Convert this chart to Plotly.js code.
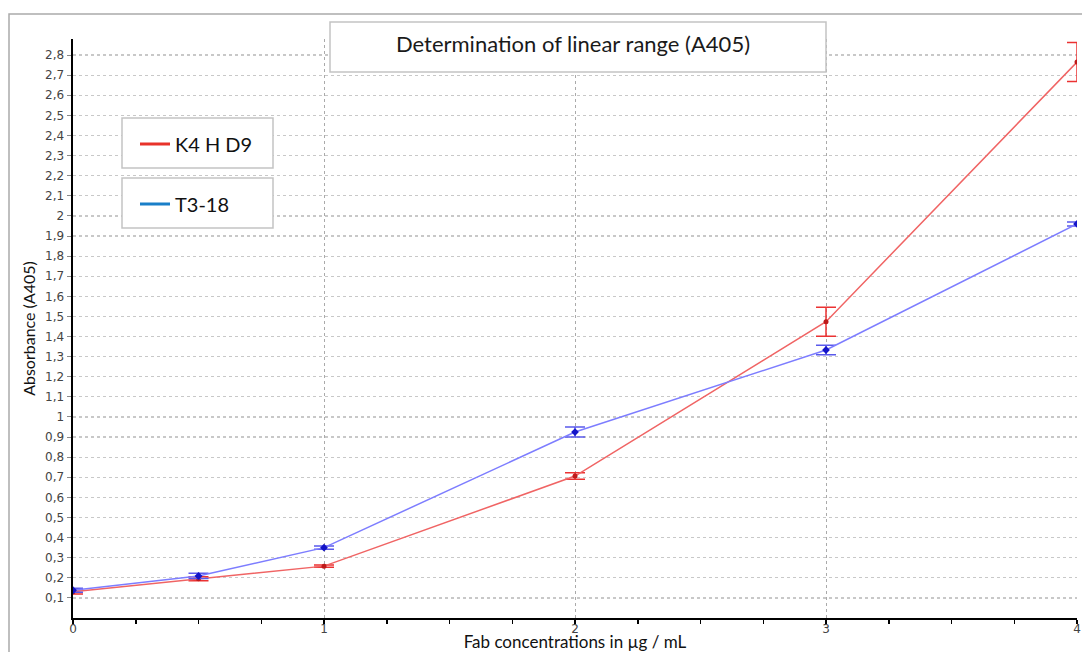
<!DOCTYPE html>
<html>
<head>
<meta charset="utf-8">
<script src="https://cdn.plot.ly/plotly-3.0.1.min.js"></script>
<style>html,body{margin:0;padding:0;background:#fff;}#chart{width:1082px;height:652px;}</style>
</head>
<body>
<div id="chart"></div>
<script>
// Data
const concentrations = [0, 0.5, 1, 2, 3, 4];
const k4hd9 = [0.13, 0.195, 0.258, 0.706, 1.474, 2.765];
const k4hd9Err = [0.01, 0.01, 0.006, 0.016, 0.072, 0.097];
const t318 = [0.138, 0.209, 0.35, 0.925, 1.333, 1.96];
const t318Err = [0.01, 0.013, 0.008, 0.025, 0.024, 0.01];
const seriesNames = ['K4 H D9', 'T3-18'];
const yTickVals = [0.1,0.2,0.3,0.4,0.5,0.6,0.7,0.8,0.9,1,1.1,1.2,1.3,1.4,1.5,1.6,1.7,1.8,1.9,2,2.1,2.2,2.3,2.4,2.5,2.6,2.7,2.8];
const yTickText = ['0,1','0,2','0,3','0,4','0,5','0,6','0,7','0,8','0,9','1','1,1','1,2','1,3','1,4','1,5','1,6','1,7','1,8','1,9','2','2,1','2,2','2,3','2,4','2,5','2,6','2,7','2,8'];
const xTickVals = [0, 1, 2, 3, 4];
const xTickText = ['0', '1', '2', '3', '4'];

const traces = [
  {
    x: concentrations, y: k4hd9, name: seriesNames[0], type: 'scatter', mode: 'lines+markers',
    line: {color: 'rgb(240,100,100)', width: 1.5},
    marker: {color: 'rgb(190,25,25)', size: 5, symbol: 'circle'},
    error_y: {type: 'data', array: k4hd9Err, visible: true, color: 'rgb(235,50,50)', thickness: 1.5, width: 10},
    showlegend: false
  },
  {
    x: concentrations, y: t318, name: seriesNames[1], type: 'scatter', mode: 'lines+markers',
    line: {color: 'rgb(125,125,255)', width: 1.5},
    marker: {color: 'rgb(20,20,200)', size: 6, symbol: 'diamond'},
    error_y: {type: 'data', array: t318Err, visible: true, color: 'rgb(90,90,235)', thickness: 1.5, width: 10},
    showlegend: false
  },
  // legend entries (no data drawn)
  {x: [null], y: [null], name: seriesNames[0], type: 'scatter', mode: 'lines',
   line: {color: 'rgb(232,50,42)', width: 3}, legend: 'legend', showlegend: true},
  {x: [null], y: [null], name: seriesNames[1], type: 'scatter', mode: 'lines',
   line: {color: 'rgb(26,127,200)', width: 3}, legend: 'legend2', showlegend: true}
];

const L = 73, R = 1077, T = 39, B = 618;
const px = v => (v - L) / (R - L);
const py = v => (B - v) / (B - T);

const legendFont = {family: 'Lato, "Open Sans", sans-serif', size: 20, color: '#111'};

const layout = {
  width: 1082, height: 652,
  margin: {l: L, r: 1082 - R, t: T, b: 652 - B, autoexpand: false},
  paper_bgcolor: '#fff', plot_bgcolor: '#fff',
  font: {family: '"DejaVu Sans", sans-serif', size: 12, color: '#444'},
  title: {
    text: 'Determination of linear range (A405)',
    font: {family: 'Lato, "Open Sans", sans-serif', size: 22, color: '#1a1a1a'},
    xref: 'paper', x: px(573), xanchor: 'center',
    yref: 'container', y: 1 - 44 / 652, yanchor: 'middle'
  },
  xaxis: {
    range: [0, 4], tickmode: 'array', tickvals: xTickVals, ticktext: xTickText,
    showline: true, linecolor: '#000', linewidth: 2,
    ticks: 'outside', ticklen: 2, tickcolor: '#000', tickwidth: 1.5,
    ticklabelstandoff: -3,
    minor: {dtick: 0.25, tick0: 0, ticks: 'outside', ticklen: 4, tickcolor: '#000', showgrid: false},
    showgrid: true, gridcolor: 'rgb(170,170,170)', griddash: 'dot', gridwidth: 1,
    zeroline: false, automargin: false,
    tickfont: {family: '"DejaVu Sans", sans-serif', size: 12, color: '#444'},
    title: {text: 'Fab concentrations in µg / mL', standoff: 9,
            font: {family: 'Lato, "Open Sans", sans-serif', size: 17, color: '#111'}}
  },
  yaxis: {
    range: [0, 2.88], tickmode: 'array', tickvals: yTickVals, ticktext: yTickText,
    showline: true, linecolor: '#000', linewidth: 2.5,
    ticks: 'outside', ticklen: 4, tickcolor: '#888', tickwidth: 1,
    showgrid: true, gridcolor: 'rgb(200,200,200)', griddash: 'dot', gridwidth: 1.2,
    zeroline: false, automargin: false,
    tickfont: {family: '"DejaVu Sans", sans-serif', size: 12, color: '#444'},
    title: {text: 'Absorbance (A405)', standoff: 6,
            font: {family: 'Lato, "Open Sans", sans-serif', size: 16, color: '#111'}}
  },
  showlegend: true,
  legend: {
    x: px(135), y: py(144), xanchor: 'left', yanchor: 'middle',
    bgcolor: 'rgba(0,0,0,0)', borderwidth: 0, font: legendFont, itemwidth: 30
  },
  legend2: {
    x: px(135), y: py(204), xanchor: 'left', yanchor: 'middle',
    bgcolor: 'rgba(0,0,0,0)', borderwidth: 0, font: legendFont, itemwidth: 30
  },
  shapes: [
    // outer frame
    {type: 'rect', xref: 'paper', yref: 'paper', x0: px(9), x1: px(1090), y0: py(660), y1: py(14),
     line: {color: 'rgb(170,170,170)', width: 1.5}, fillcolor: 'rgba(0,0,0,0)', layer: 'below'},
    // title box
    {type: 'rect', xref: 'paper', yref: 'paper', x0: px(330), x1: px(826), y0: py(72), y1: py(22),
     line: {color: 'rgb(195,195,195)', width: 1.5}, fillcolor: '#fff', layer: 'above'},
    // legend boxes
    {type: 'rect', xref: 'paper', yref: 'paper', x0: px(122), x1: px(273), y0: py(168), y1: py(118),
     line: {color: 'rgb(195,195,195)', width: 1.5}, fillcolor: '#fff', layer: 'above'},
    {type: 'rect', xref: 'paper', yref: 'paper', x0: px(122), x1: px(273), y0: py(228), y1: py(178),
     line: {color: 'rgb(195,195,195)', width: 1.5}, fillcolor: '#fff', layer: 'above'}
  ]
};

Plotly.newPlot('chart', traces, layout, {displayModeBar: false, staticPlot: true});
</script>
</body>
</html>
